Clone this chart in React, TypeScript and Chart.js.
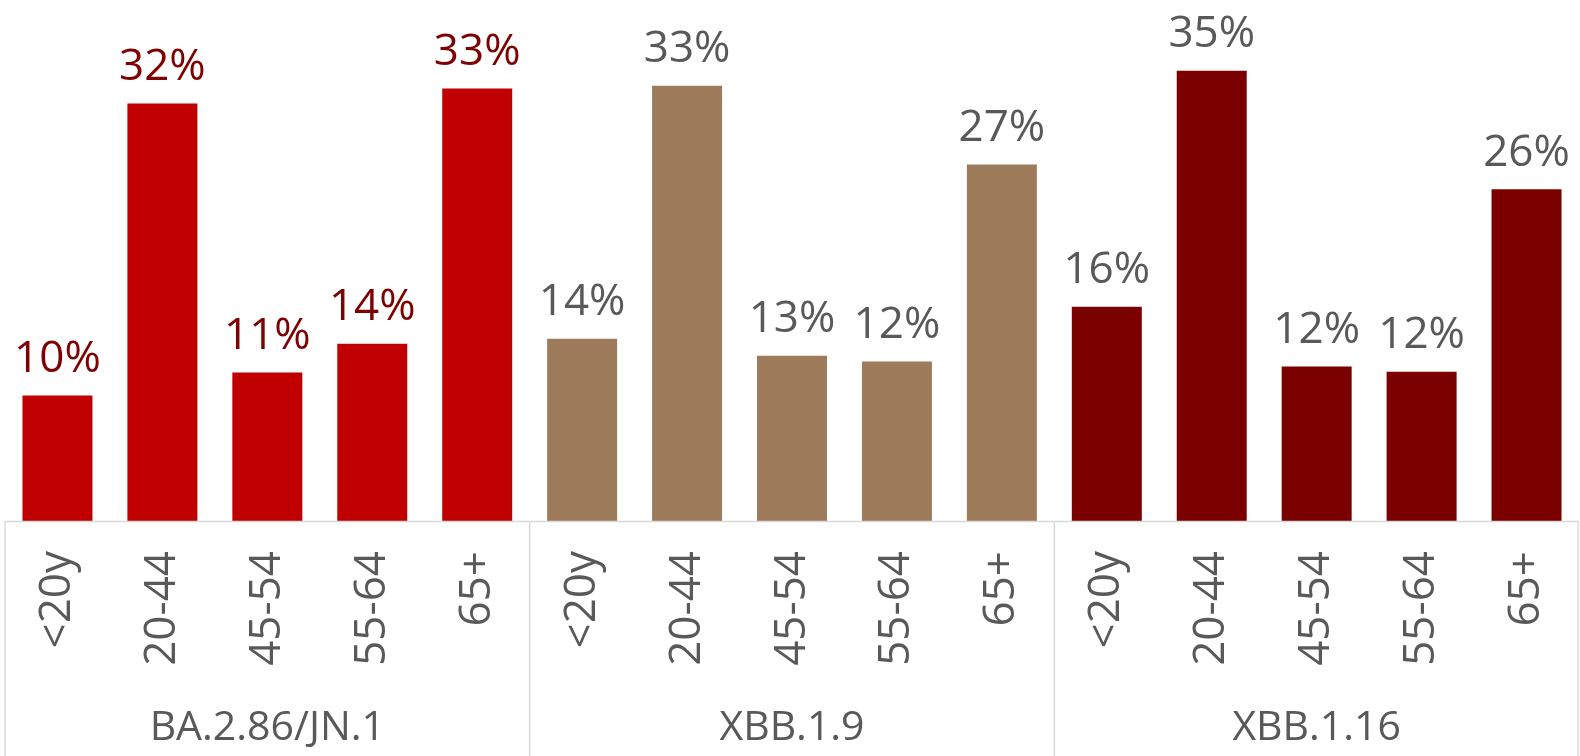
import React, { useEffect, useRef } from "react";
import { Chart, registerables } from "chart.js";

Chart.register(...registerables);

const ageGroups = ["<20y", "20-44", "45-54", "55-64", "65+"];
const variants = ["BA.2.86/JN.1", "XBB.1.9", "XBB.1.16"];

const ba286Values = [9.66, 32.11, 11.42, 13.64, 33.26];
const xbb19Values = [14.02, 33.49, 12.72, 12.26, 27.43];
const xbb116Values = [16.48, 34.64, 11.88, 11.49, 25.52];

const ba286Labels = ["10%", "32%", "11%", "14%", "33%"];
const xbb19Labels = ["14%", "33%", "13%", "12%", "27%"];
const xbb116Labels = ["16%", "35%", "12%", "12%", "26%"];

const barColors = ["#C00000", "#9E7B5A", "#7B0000"];
const valueLabelColors = ["#7F0000", "#595959", "#595959"];

const FONT = "'Open Sans', 'Noto Sans', sans-serif";
const GRID = "#D9D9D9";
const TEXT = "#595959";

export default function App() {
  const ref = useRef<HTMLCanvasElement | null>(null);

  useEffect(() => {
    document.body.style.margin = "0";
    const seriesValues = [ba286Values, xbb19Values, xbb116Values];
    const seriesLabels = [ba286Labels, xbb19Labels, xbb116Labels];
    const categories: string[] = [];
    const values: number[] = [];
    const labels: string[] = [];
    const colors: string[] = [];
    const labelColors: string[] = [];
    variants.forEach((_, g) => {
      ageGroups.forEach((a, i) => {
        categories.push(a);
        values.push(seriesValues[g][i]);
        labels.push(seriesLabels[g][i]);
        colors.push(barColors[g]);
        labelColors.push(valueLabelColors[g]);
      });
    });

    const n = ageGroups.length;

    const decor = {
      id: "decor",
      afterDatasetsDraw(chart: any) {
        const ctx = chart.ctx;
        const meta = chart.getDatasetMeta(0);
        ctx.save();
        ctx.font = `44px ${FONT}`;
        ctx.textAlign = "center";
        ctx.textBaseline = "alphabetic";
        meta.data.forEach((bar: any, i: number) => {
          ctx.fillStyle = labelColors[i];
          ctx.fillText(labels[i], bar.x, bar.y - 23.5);
        });
        ctx.restore();
      },
      afterDraw(chart: any) {
        const ctx = chart.ctx;
        const x = chart.scales.x;
        const base = chart.chartArea.bottom;
        const bottom = chart.height;
        ctx.save();
        ctx.strokeStyle = GRID;
        ctx.lineWidth = 1.5;
        ctx.beginPath();
        ctx.moveTo(x.left, base + 0.5);
        ctx.lineTo(x.right, base + 0.5);
        for (let g = 0; g <= variants.length; g++) {
          let px: number;
          if (g === 0) px = x.left;
          else if (g === variants.length) px = x.right - 1;
          else px = (x.getPixelForValue(g * n - 1) + x.getPixelForValue(g * n)) / 2;
          ctx.moveTo(px, base);
          ctx.lineTo(px, bottom);
        }
        ctx.stroke();
        ctx.fillStyle = TEXT;
        ctx.font = `41px ${FONT}`;
        ctx.textAlign = "center";
        ctx.textBaseline = "alphabetic";
        variants.forEach((v, g) => {
          const cx = (x.getPixelForValue(g * n) + x.getPixelForValue(g * n + n - 1)) / 2;
          ctx.fillText(v, cx, 740);
        });
        ctx.restore();
      },
    };

    const chart = new Chart(ref.current as HTMLCanvasElement, {
      type: "bar",
      data: {
        labels: categories,
        datasets: [
          {
            data: values,
            backgroundColor: colors,
            borderWidth: 0,
            barPercentage: 0.667,
            categoryPercentage: 1,
          },
        ],
      },
      options: {
        animation: false,
        responsive: false,
        maintainAspectRatio: false,
        events: [],
        layout: { padding: { left: 5, right: 1, top: 1, bottom: 0 } },
        plugins: {
          legend: { display: false },
          tooltip: { enabled: false },
        },
        scales: {
          x: {
            grid: { display: false, drawTicks: false },
            border: { display: false },
            ticks: {
              minRotation: 90,
              maxRotation: 90,
              autoSkip: false,
              padding: 30,
              color: TEXT,
              font: { family: FONT, size: 44 },
            },
            afterFit(scale: any) {
              scale.height = 235;
              scale.paddingLeft = 0;
              scale.paddingRight = 0;
            },
          },
          y: {
            display: false,
            min: 0,
            max: 40,
          },
        },
      },
      plugins: [decor],
    });
    return () => chart.destroy();
  }, []);

  return (
    <div style={{ position: "fixed", left: 0, top: 0, width: 1580, height: 756, background: "#fff" }}>
      <canvas ref={ref} width={1580} height={756} style={{ width: 1580, height: 756, display: "block" }} />
    </div>
  );
}
